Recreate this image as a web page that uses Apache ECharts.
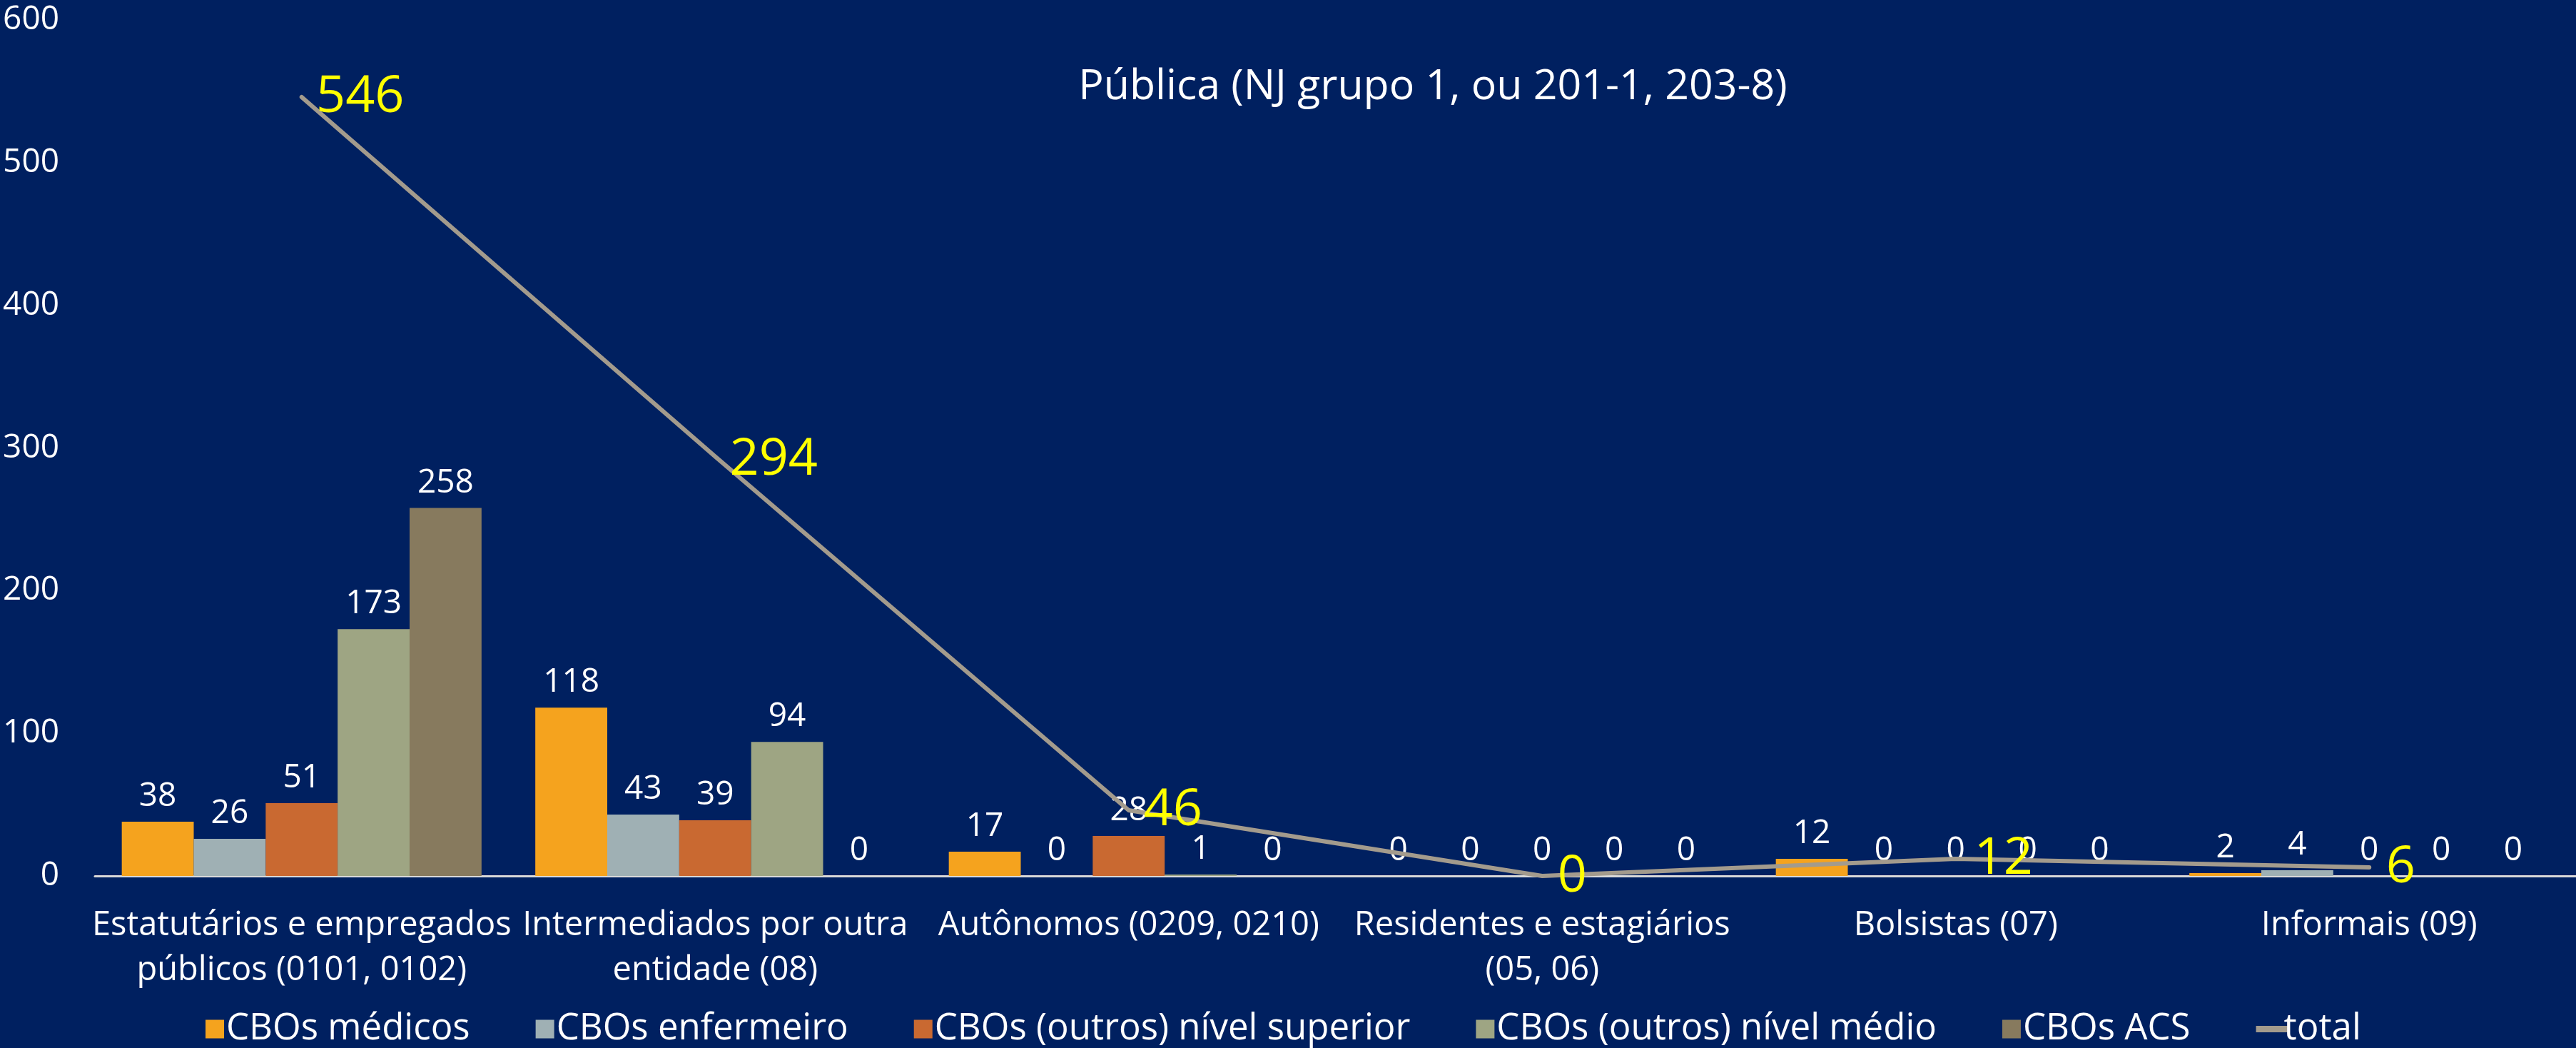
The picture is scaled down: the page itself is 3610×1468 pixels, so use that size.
<!DOCTYPE html>
<html>
<head>
<meta charset="utf-8">
<script src="https://cdn.jsdelivr.net/npm/echarts@6/dist/echarts.min.js"></script>
<style>
  html, body { margin: 0; padding: 0; background: #002060; }
  #main { width: 3610px; height: 1468px; }
</style>
</head>
<body>
<div id="main"></div>
<script>
var categories = [
  "Estatutários e empregados\npúblicos (0101, 0102)",
  "Intermediados por outra\nentidade (08)",
  "Autônomos (0209, 0210)",
  "Residentes e estagiários\n(05, 06)",
  "Bolsistas (07)",
  "Informais (09)"
];
var medicos = [38, 118, 17, 0, 12, 2];
var enfermeiro = [26, 43, 0, 0, 0, 4];
var outrosSuperior = [51, 39, 28, 0, 0, 0];
var outrosMedio = [173, 94, 1, 0, 0, 0];
var acs = [258, 0, 0, 0, 0, 0];
var total = [546, 294, 46, 0, 12, 6];
var yTicks = [0, 100, 200, 300, 400, 500, 600];

// where the yellow total labels sit relative to each point (px)
var totalLabelOffset = [[82, 1], [82, 5], [62, 0], [42, 1], [67, 0], [44, 0]];

var font = "'Open Sans', Lato, sans-serif";
var square = "path://M0,0 L26,0 L26,26 L0,26 Z";

function barSeries(name, data, color) {
  return {
    name: name,
    type: "bar",
    data: data,
    barGap: 0,
    barCategoryGap: "13%",
    itemStyle: { color: color },
    label: {
      show: true,
      position: "top",
      distance: 12,
      color: "#ffffff",
      fontSize: 46,
      fontFamily: font
    }
  };
}

var myChart = echarts.init(document.getElementById("main"));
myChart.setOption({
  backgroundColor: "#002060",
  animation: false,
  title: {
    text: "Pública (NJ grupo 1, ou 201-1, 203-8)",
    left: 2003,
    top: 88,
    textAlign: "center",
    textStyle: { color: "#ffffff", fontSize: 59, fontWeight: "normal", fontFamily: font }
  },
  grid: { left: 133, right: 0, top: 28, bottom: 241 },
  legend: {
    bottom: -4,
    left: 283,
    itemGap: 92,
    itemWidth: 46,
    itemHeight: 26,
    symbolKeepAspect: true,
    textStyle: { color: "#ffffff", fontSize: 51, fontFamily: font, padding: [0, 0, 0, -12] },
    data: [
      { name: "CBOs médicos", icon: square },
      { name: "CBOs enfermeiro", icon: square },
      { name: "CBOs (outros) nível superior", icon: square },
      { name: "CBOs (outros) nível médio", icon: square },
      { name: "CBOs ACS", icon: square },
      { name: "total", icon: "path://M0,0 L46,0 L46,9 L0,9 Z" }
    ]
  },
  xAxis: {
    type: "category",
    data: categories,
    axisLine: { lineStyle: { color: "#d9d9d9", width: 3 } },
    axisTick: { show: false },
    axisLabel: {
      interval: 0,
      color: "#ffffff",
      fontSize: 47,
      lineHeight: 63,
      margin: 38,
      fontFamily: font
    }
  },
  yAxis: {
    type: "value",
    min: yTicks[0],
    max: yTicks[yTicks.length - 1],
    interval: 100,
    axisLine: { show: false },
    axisTick: { show: false },
    splitLine: { show: false },
    axisLabel: { color: "#ffffff", fontSize: 46, margin: 50, fontFamily: font }
  },
  series: [
    barSeries("CBOs médicos", medicos, "#f5a31e"),
    barSeries("CBOs enfermeiro", enfermeiro, "#9fb0b4"),
    barSeries("CBOs (outros) nível superior", outrosSuperior, "#c96931"),
    barSeries("CBOs (outros) nível médio", outrosMedio, "#9ea583"),
    barSeries("CBOs ACS", acs, "#877a5e"),
    {
      name: "total",
      type: "line",
      z: 5,
      symbol: "circle",
      symbolSize: 1,
      itemStyle: { color: "#a39b8d" },
      lineStyle: { color: "#a39b8d", width: 6, cap: "round", join: "round" },
      data: total.map(function (v, i) {
        return { value: v, label: { offset: totalLabelOffset[i] } };
      }),
      label: {
        show: true,
        position: "inside",
        align: "center",
        verticalAlign: "middle",
        color: "#ffff00",
        fontSize: 72,
        fontFamily: font
      }
    }
  ]
});
</script>
</body>
</html>
